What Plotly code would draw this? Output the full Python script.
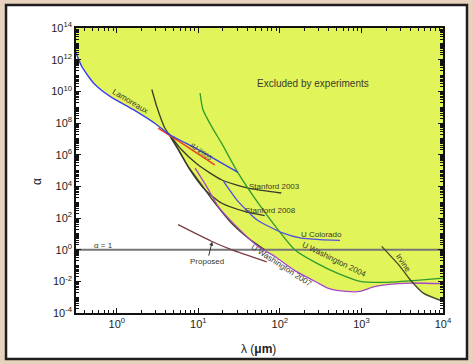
import numpy as np
import plotly.graph_objects as go

# ---- data (wavelength lambda in micrometres, alpha) ----
lam_x = [0.31, 0.372, 0.518, 0.828, 1.6, 3.09, 4.26, 9.93, 30.7]
lam_a = [3.4e12, 3.8e11, 3.4e10, 4.8e9, 6.9e8, 7.8e7, 2.1e7, 2.1e6, 7.6e4]

iu_x = [3.21, 6.2, 15.9]
iu_a = [4.8e7, 5.5e6, 2.3e5]

edge_x = [2.69, 3.09, 3.88, 5.14, 7.49, 10.9, 15.9, 25.4, 40.7, 65.2]
edge_a = [1.3e10, 1.1e9, 4.8e7, 5.5e6, 1.8e5, 1.3e4, 890, 48, 5.5, 1.0]

st03_x = [4.3, 6.2, 9.9, 19.2, 40.7, 104]
st03_a = [2.3e7, 2.1e6, 2.3e5, 2.6e4, 7.8e3, 3.8e3]

st08_x = [4.5, 5.97, 7.9, 12, 19.2, 37, 65]
st08_a = [1.4e7, 1.3e6, 1.1e5, 6.2e3, 890, 260, 140]

colo_x = [20.3, 29.6, 52, 110, 177, 310, 546]
colo_a = [2.1e4, 1.4e3, 78, 11, 5.5, 4.3, 3.9]

uw04_x = [10.5, 11.4, 15.3, 19.2, 30.7, 54, 95, 152, 282, 497, 960, 2036, 4744, 1e4]
uw04_a = [7.8e9, 6.9e8, 3.8e7, 5.5e6, 7e4, 890, 18, 1.0, 0.14, 0.034, 0.010, 8.7e-3, 0.0115, 0.016]

uw07_x = [9.12, 12.6, 17.5, 27.9, 54, 86, 146, 282, 411, 659, 960, 1397, 2036, 3936, 1e4]
uw07_a = [1.4e5, 1e4, 550, 38, 1.6, 0.38, 0.055, 8.7e-3, 3.3e-3, 2.3e-3, 2.3e-3, 4.4e-3, 6.2e-3, 7.8e-3, 7.1e-3]

irv_x = [1770, 2966, 3936, 5730, 1e4]
irv_a = [1.6, 0.089, 0.013, 1.8e-3, 5.5e-4]

prop_x = [5.65, 9.9, 14.5, 25.4, 69]
prop_a = [38, 8.9, 3.4, 1.0, 0.17]

x_tickvals = [1, 10, 100, 1000, 10000]
x_ticktext = ["10<sup>0</sup>", "10<sup>1</sup>", "10<sup>2</sup>", "10<sup>3</sup>", "10<sup>4</sup>"]
y_exps = [-4, -2, 0, 2, 4, 6, 8, 10, 12, 14]
y_tickvals = [10.0 ** e for e in y_exps]
y_ticktext = ["10<sup>%d</sup>" % e for e in y_exps]

X_RANGE = [-0.5, 4.0]
Y_RANGE = [-4, 14]

# ---- excluded region: union of the limits (lower envelope) ----
grid = np.logspace(X_RANGE[0], X_RANGE[1], 500)
env = np.full(grid.shape, np.inf)
for cx, ca in [(lam_x, lam_a), (edge_x, edge_a), (uw07_x, uw07_a), (irv_x, irv_a), (uw04_x, uw04_a)]:
    lx = np.log10(cx)
    la = np.log10(ca)
    lg = np.log10(grid)
    ok = (lg >= lx[0]) & (lg <= lx[-1])
    vals = np.interp(lg, lx, la)
    env = np.where(ok, np.minimum(env, vals), env)
env = np.where(np.isfinite(env), env, 14)
fill_x = list(grid) + [grid[-1], grid[0]]
fill_y = list(10.0 ** env) + [1e14, 1e14]

fig = go.Figure()
fig.add_trace(go.Scatter(x=fill_x, y=fill_y, fill="toself", fillcolor="#e1f45a",
                         line=dict(width=0), mode="lines", hoverinfo="skip"))

# alpha = 1 line
fig.add_trace(go.Scatter(x=[10 ** X_RANGE[0], 10 ** X_RANGE[1]], y=[1, 1], mode="lines",
                         line=dict(color="#777777", width=2)))

def line(x, y, color, w=1.3):
    fig.add_trace(go.Scatter(x=x, y=y, mode="lines",
                             line=dict(color=color, width=w, shape="spline", smoothing=0.6)))

line(edge_x, edge_a, "#3a3e20")
line(st03_x, st03_a, "#3a3a2a")
line(st08_x, st08_a, "#3a3a2a")
line(uw04_x, uw04_a, "#2f9a2f")
line(colo_x, colo_a, "#5050e0")
line(uw07_x, uw07_a, "#a745c8")
line(irv_x, irv_a, "#3e4a22")
line(prop_x, prop_a, "#7a3d45")
line(iu_x, iu_a, "#e8401e", 1.5)
line(lam_x, lam_a, "#3c40e6", 1.4)

font = "Liberation Sans, Arial, sans-serif"
ann_color = "#3a3a2a"

def lbl(text, x, y, angle=0, size=8, dx=0, dy=0):
    fig.add_annotation(x=np.log10(x), y=np.log10(y), text=text, showarrow=False,
                       textangle=angle, xshift=dx, yshift=dy,
                       font=dict(size=size, color=ann_color, family=font))

lbl("Excluded by experiments", 257, 3.0e10, 0, 10)
lbl("Lamoreaux", 1.39, 1.2e9, 31, dx=2, dy=4)
lbl("IU 2005", 10.5, 1.15e6, 35, size=7, dx=1, dy=2)
lbl("Stanford 2003", 85, 9.1e3)
lbl("Stanford 2008", 77, 300)
lbl("U Colorado", 324, 8.5)
lbl("U Washington 2007", 110, 0.145, 33, dx=-2, dy=-3)
lbl("U Washington 2004", 474, 0.18, 26, dx=-1, dy=2)
lbl("Irvine", 2700, 0.145, 55, dx=6, dy=0)
lbl("α = 1", 0.69, 1.8)

fig.add_annotation(x=np.log10(14.8), y=np.log10(3.2), text="Proposed", showarrow=True,
                   ax=-5, ay=20, arrowhead=2, arrowsize=0.8, arrowwidth=1, arrowcolor="#333",
                   font=dict(size=8, color=ann_color, family=font))

# axis titles
fig.add_annotation(xref="paper", yref="paper", x=-0.106, y=0.46, text="α", textangle=-90,
                   xanchor="center", yanchor="middle",
                   showarrow=False, font=dict(size=12, color="#222", family=font))
fig.add_annotation(xref="paper", yref="paper", x=0.496, y=-0.128, text="λ (<b>μm</b>)",
                   xanchor="center", yanchor="middle",
                   showarrow=False, font=dict(size=12, color="#222", family=font))

# page frame
fig.add_shape(type="rect", xref="paper", yref="paper", x0=-0.1907, x1=1.0654, y0=-0.1614, y1=1.0807,
              line=dict(color="#1e1e1e", width=2.5), fillcolor="white", layer="below")

axis_common = dict(type="log", showgrid=False, zeroline=False, showline=True, linecolor="#111",
                   linewidth=1.5, mirror="ticks", ticks="inside", ticklen=5, tickcolor="#111",
                   tickwidth=1.2, tickfont=dict(size=11, color="#222", family=font))
fig.update_xaxes(range=X_RANGE, tickvals=x_tickvals, ticktext=x_ticktext,
                 minor=dict(ticks="inside", ticklen=3, tickcolor="#111", dtick="D1"), **axis_common)
fig.update_yaxes(range=Y_RANGE, tickvals=y_tickvals, ticktext=y_ticktext,
                 minor=dict(ticks="inside", ticklen=3, tickcolor="#111", dtick="D1"), **axis_common)

fig.update_layout(width=473, height=364, showlegend=False,
                  margin=dict(l=76, r=30, t=28, b=51),
                  paper_bgcolor="#e7d3bd", plot_bgcolor="white")

fig.write_html("out.html")
